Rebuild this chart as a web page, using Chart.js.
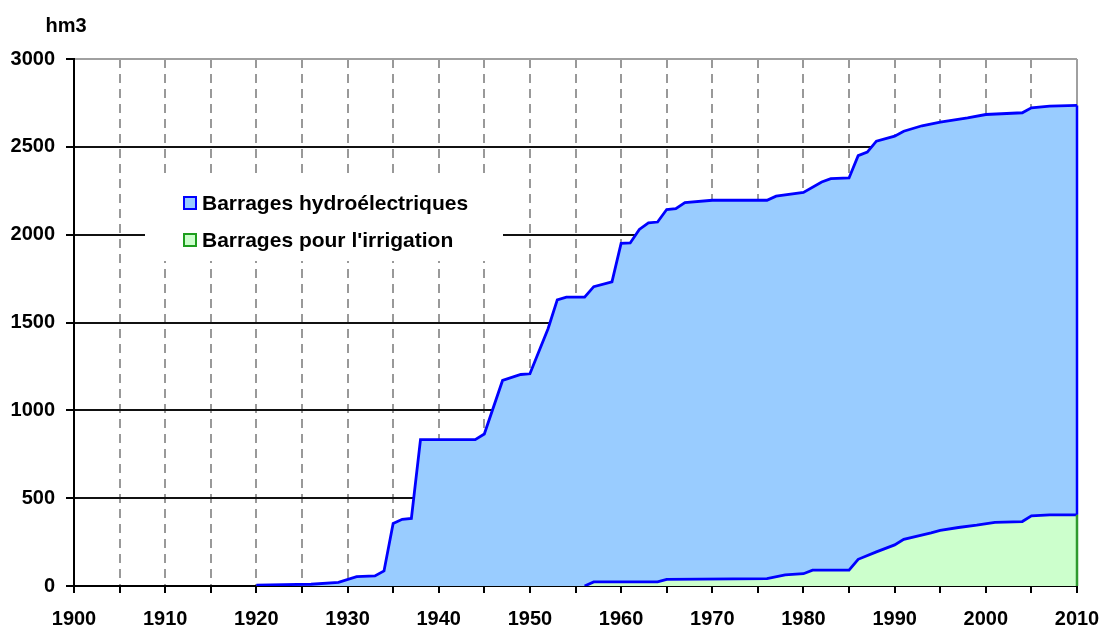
<!DOCTYPE html>
<html>
<head>
<meta charset="utf-8">
<script src="https://cdn.jsdelivr.net/npm/chart.js@4.4.1/dist/chart.umd.min.js"></script>
<style>
  html, body { margin: 0; padding: 0; background: #fff; }
  canvas { display: block; }
</style>
</head>
<body>
<canvas id="chart" width="1103" height="630"></canvas>
<script>
// cumulative storage (hm3)
var hydroYears = [1920, 1926, 1929, 1931, 1933, 1934, 1935, 1936, 1937, 1938, 1944, 1945, 1947, 1949, 1950,
    1952, 1953, 1954, 1956, 1957, 1959, 1960, 1961, 1962, 1963, 1964, 1965, 1966, 1967, 1970, 1976, 1977,
    1980, 1982, 1983, 1985, 1986, 1987, 1988, 1990, 1991, 1993, 1995, 1998, 2000, 2004, 2005, 2007, 2010];
var hydroValues = [5, 10, 21, 53, 57, 86, 356, 380, 385, 833, 833, 865, 1170, 1204, 1208,
    1466, 1629, 1644, 1644, 1704, 1732, 1950, 1953, 2030, 2067, 2072, 2143, 2148, 2182, 2196, 2196, 2219,
    2240, 2300, 2319, 2323, 2450, 2470, 2532, 2561, 2589, 2620, 2641, 2665, 2684, 2694, 2722, 2732, 2736];

var irrigYears = [1956, 1957, 1964, 1965, 1976, 1978, 1980, 1981, 1985, 1986, 1988, 1990, 1991, 1994,
    1995, 1997, 1999, 2001, 2004, 2005, 2007, 2010];
var irrigValues = [0, 23, 23, 38, 42, 63, 70, 90, 90, 152, 194, 234, 266, 303,
    317, 333, 346, 362, 367, 399, 405, 405];

var seriesLabels = ['Barrages hydroélectriques', "Barrages pour l'irrigation"];
var xMin = 1900, xMax = 2010, xStep = 5;
var yMin = 0, yMax = 3000, yStep = 500;
var unitLabel = 'hm3';

var FONT = "'Liberation Sans', Arial, sans-serif";
var BLUE_LINE = '#0000ff', BLUE_FILL = '#99ccff';
var GREEN_LINE = '#2f9a2f', GREEN_FILL = '#ccffcc';

function toPoints(xs, ys) {
    return xs.map(function (x, i) { return { x: x, y: ys[i] }; });
}

// white legend box inside the plot, plus frame lines and unit label
var decorPlugin = {
    id: 'decor',
    beforeDatasetsDraw: function (chart) {
        var ctx = chart.ctx, a = chart.chartArea;
        ctx.save();
        ctx.strokeStyle = '#a0a0a0';
        ctx.lineWidth = 2;
        ctx.beginPath();
        ctx.moveTo(a.right, a.top);
        ctx.lineTo(a.right, a.bottom);
        ctx.stroke();

        ctx.fillStyle = '#fff';
        ctx.fillRect(145, 179, 358, 82);
        var rows = [
            { y: 203, fill: BLUE_FILL, stroke: BLUE_LINE, text: seriesLabels[0] },
            { y: 240, fill: GREEN_FILL, stroke: '#1e9e1e', text: seriesLabels[1] }
        ];
        ctx.font = 'bold 21px ' + FONT;
        ctx.textBaseline = 'middle';
        rows.forEach(function (r) {
            ctx.fillStyle = r.fill;
            ctx.fillRect(184, r.y - 6, 12, 12);
            ctx.strokeStyle = r.stroke;
            ctx.lineWidth = 2;
            ctx.strokeRect(184, r.y - 6, 12, 12);
            ctx.fillStyle = '#000';
            ctx.fillText(r.text, 202, r.y + 1);
        });

        ctx.font = 'bold 20px ' + FONT;
        ctx.textAlign = 'center';
        ctx.textBaseline = 'alphabetic';
        ctx.fillText(unitLabel, 66, 32);
        ctx.restore();
    },
    afterDatasetsDraw: function (chart) {
        var ctx = chart.ctx, xs = chart.scales.x, ys = chart.scales.y;
        var x = xs.getPixelForValue(hydroYears[hydroYears.length - 1]);
        var yTop = ys.getPixelForValue(hydroValues[hydroValues.length - 1]);
        var yMid = ys.getPixelForValue(irrigValues[irrigValues.length - 1]);
        var y0 = ys.getPixelForValue(0);
        ctx.save();
        ctx.lineWidth = 2.5;
        ctx.strokeStyle = BLUE_LINE;
        ctx.beginPath(); ctx.moveTo(x, yTop); ctx.lineTo(x, yMid); ctx.stroke();
        ctx.strokeStyle = GREEN_LINE;
        ctx.beginPath(); ctx.moveTo(x, yMid); ctx.lineTo(x, y0); ctx.stroke();
        ctx.restore();
    }
};

Chart.defaults.font.family = FONT;
Chart.defaults.font.size = 20;
Chart.defaults.font.weight = 'bold';
Chart.defaults.color = '#000';

new Chart(document.getElementById('chart').getContext('2d'), {
    type: 'line',
    data: {
        datasets: [{
            label: seriesLabels[1],
            data: toPoints(irrigYears, irrigValues),
            borderColor: BLUE_LINE,
            backgroundColor: GREEN_FILL,
            borderWidth: 2.8,
            fill: 'origin'
        }, {
            label: seriesLabels[0],
            data: toPoints(hydroYears, hydroValues),
            borderColor: BLUE_LINE,
            backgroundColor: BLUE_FILL,
            borderWidth: 2.8,
            fill: 'origin'
        }]
    },
    options: {
        responsive: false,
        animation: false,
        layout: { padding: { top: 59, right: 26, left: 0, bottom: 0 } },
        elements: { point: { radius: 0 }, line: { tension: 0 } },
        plugins: {
            legend: { display: false },
            tooltip: { enabled: false }
        },
        scales: {
            x: {
                type: 'linear',
                min: xMin,
                max: xMax,
                afterFit: function (s) {
                    s.height = 44;
                    s.paddingLeft = 0;
                    s.paddingRight = 22;
                },
                ticks: {
                    stepSize: xStep,
                    autoSkip: false,
                    maxRotation: 0,
                    padding: 14,
                    callback: function (v) { return v % 10 === 0 ? String(v) : ''; }
                },
                grid: {
                    color: function (c) {
                        var v = c.tick && c.tick.value;
                        return (v === xMin || v === xMax) ? 'rgba(0,0,0,0)' : '#999999';
                    },
                    lineWidth: 2,
                    tickColor: '#000',
                    tickLength: 7,
                    tickWidth: 2
                },
                border: { color: '#000', width: 2, dash: [9, 6] }
            },
            y: {
                min: yMin,
                max: yMax,
                afterFit: function (s) { s.width = 74; },
                ticks: {
                    stepSize: yStep,
                    padding: 11,
                    callback: function (v) { return String(v); }
                },
                grid: {
                    color: function (c) {
                        var v = c.tick && c.tick.value;
                        if (v === yMin) return 'rgba(0,0,0,0)';
                        return v === yMax ? '#a0a0a0' : '#111';
                    },
                    lineWidth: 2,
                    tickColor: '#000',
                    tickLength: 8,
                    tickWidth: 2
                },
                border: { color: '#000', width: 2 }
            }
        }
    },
    plugins: [decorPlugin]
});
</script>
</body>
</html>
